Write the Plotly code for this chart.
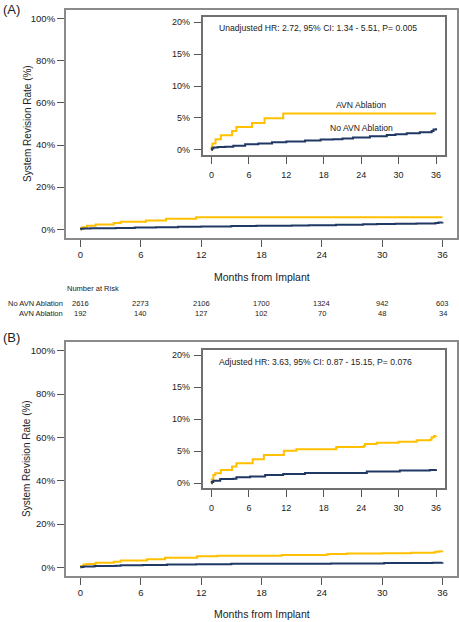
import plotly.graph_objects as go

W, H = 459, 622

# ---------------- data ----------------
months_ticks = [0, 6, 12, 18, 24, 30, 36]
main_y_ticks = [0, 20, 40, 60, 80, 100]
inset_y_ticks = [0, 5, 10, 15, 20]

# Panel A (unadjusted)
a_avn_t = [0, 0.05, 0.15, 0.65, 1.5, 3.3, 4.0, 6.5, 8.5, 11.5, 36]
a_avn_y = [0, 0.5, 1.0, 1.66, 2.3, 2.97, 3.6, 4.2, 4.95, 5.7, 5.7]
a_no_t = [0, 0.05, 0.3, 1.0, 2.2, 3.5, 5.4, 7.5, 9.7, 12.0, 15.0, 17.5, 19.5, 21.0,
          22.7, 25.4, 28.1, 29.5, 31.3, 33.4, 35.3, 35.6, 36]
a_no_y = [0, 0.25, 0.38, 0.45, 0.52, 0.65, 0.89, 1.02, 1.2, 1.32, 1.5, 1.62, 1.68, 1.78,
          1.95, 2.15, 2.35, 2.45, 2.6, 2.78, 2.95, 3.2, 3.38]

# Panel B (adjusted)
b_avn_t = [0, 0.05, 0.3, 0.6, 1.5, 3.3, 4.0, 6.6, 8.4, 11.6, 13.6, 20.0, 24.4, 24.6,
           26.5, 30.0, 32.9, 35.1, 35.3, 35.7, 36]
b_avn_y = [0, 0.6, 1.3, 1.56, 2.08, 2.6, 3.12, 3.74, 4.41, 5.09, 5.3, 5.65, 5.82, 6.13,
           6.34, 6.5, 6.7, 6.85, 7.17, 7.37, 7.4]
b_no_t = [0, 0.05, 0.3, 1.4, 3.5, 4.0, 6.2, 8.6, 11.5, 15.0, 19.5, 24.9, 30.2, 35.0, 36]
b_no_y = [0, 0.2, 0.4, 0.65, 0.7, 0.94, 1.04, 1.3, 1.45, 1.6, 1.62, 1.82, 1.98, 2.08, 2.18]

risk_labels = ["No AVN Ablation", "AVN Ablation"]
risk_no_avn = [2616, 2273, 2106, 1700, 1324, 942, 603]
risk_avn = [192, 140, 127, 102, 70, 48, 34]

hr_text_a = "Unadjusted HR: 2.72, 95% CI: 1.34 - 5.51, P= 0.005"
hr_text_b = "Adjusted HR: 3.63, 95% CI: 0.87 - 15.15, P= 0.076"

YELLOW = "#FFC000"
NAVY = "#1F3864"
FONT = "Liberation Sans, Arial, sans-serif"
TXT = "#222222"


def xd(px0, px1):
    return [px0 / W, px1 / W]


def yd(py_top, py_bot):
    return [1 - py_bot / H, 1 - py_top / H]


def pct(vals):
    return [f"{v}%" for v in vals]


fig = go.Figure()


def add_curves(t_avn, y_avn, t_no, y_no, xa, ya, width):
    fig.add_trace(go.Scatter(x=t_avn, y=y_avn, mode="lines", line=dict(color=YELLOW, width=width, shape="hv"),
                             xaxis=xa, yaxis=ya, hoverinfo="skip"))
    fig.add_trace(go.Scatter(x=t_no, y=y_no, mode="lines", line=dict(color=NAVY, width=width, shape="hv"),
                             xaxis=xa, yaxis=ya, hoverinfo="skip"))


add_curves(a_avn_t, a_avn_y, a_no_t, a_no_y, "x", "y", 2)
add_curves(a_avn_t, a_avn_y, a_no_t, a_no_y, "x2", "y2", 2)
add_curves(b_avn_t, b_avn_y, b_no_t, b_no_y, "x3", "y3", 2)
add_curves(b_avn_t, b_avn_y, b_no_t, b_no_y, "x4", "y4", 2)

xrng = [-1.44, 37.44]
main_ax = dict(showline=True, mirror=True, linecolor="#8a8a8a", linewidth=2, ticks="outside",
               ticklen=7, tickcolor="#555", tickwidth=1, showgrid=False, zeroline=False,
               tickfont=dict(family=FONT, size=9.5, color=TXT))
inset_ax = dict(showline=True, mirror=True, linecolor="#707070", linewidth=1.5, ticks="outside",
                ticklen=7, tickcolor="#555", tickwidth=1, showgrid=False, zeroline=False,
                tickfont=dict(family=FONT, size=9, color=TXT))

fig.update_layout(
    width=W, height=H, margin=dict(l=0, r=0, t=0, b=0),
    paper_bgcolor="white", plot_bgcolor="white", showlegend=False,
    xaxis=dict(domain=xd(66, 457), range=xrng, tickvals=months_ticks, anchor="y", ticklabelstandoff=0, **main_ax),
    yaxis=dict(domain=yd(10.3, 237.7), range=[-4, 104], tickvals=main_y_ticks, ticktext=pct(main_y_ticks),
               anchor="x", ticklabelstandoff=0, **main_ax),
    xaxis2=dict(domain=xd(202.5, 445), range=xrng, tickvals=months_ticks, anchor="y2", ticklabelstandoff=3, **inset_ax),
    yaxis2=dict(domain=yd(16.9, 155.1), range=[-0.8, 20.8], tickvals=inset_y_ticks, ticktext=pct(inset_y_ticks),
                anchor="x2", ticklabelstandoff=2, **inset_ax),
    xaxis3=dict(domain=xd(66, 457), range=xrng, tickvals=months_ticks, anchor="y3", ticklabelstandoff=0, **main_ax),
    yaxis3=dict(domain=yd(342, 576), range=[-4, 104], tickvals=main_y_ticks, ticktext=pct(main_y_ticks),
                anchor="x3", ticklabelstandoff=0, **main_ax),
    xaxis4=dict(domain=xd(202.5, 445), range=xrng, tickvals=months_ticks, anchor="y4", ticklabelstandoff=3, **inset_ax),
    yaxis4=dict(domain=yd(350, 488.4), range=[-0.8, 20.8], tickvals=inset_y_ticks, ticktext=pct(inset_y_ticks),
                anchor="x4", ticklabelstandoff=2, **inset_ax),
)

ann = []


def txt(x, y, s, size, xanchor="center", xref="paper", yref="paper", angle=0, color=TXT):
    ann.append(dict(x=x, y=y, xref=xref, yref=yref, text=s, showarrow=False, xanchor=xanchor,
                    yanchor="middle", textangle=angle, font=dict(family=FONT, size=size, color=color)))


def P(px, py):
    return px / W, 1 - py / H


# panel letters
x, y = P(1, 10); txt(x, y, "(A)", 13, xanchor="left")
x, y = P(1, 337); txt(x, y, "(B)", 13, xanchor="left")
# axis titles
for cy in (124, 459):
    x, y = P(27, cy); txt(x, y, "System Revision Rate (%)", 10, angle=-90)
for cy in (277, 614):
    x, y = P(261.5, cy); txt(x, y, "Months from Implant", 10.5)
# HR text
x, y = P(217, 28); txt(x, y, hr_text_a, 8.6, xanchor="left")
x, y = P(217, 361.5); txt(x, y, hr_text_b, 8.6, xanchor="left")
# inset curve labels (panel A)
x, y = P(361, 105); txt(x, y, "AVN Ablation", 8.6)
x, y = P(361, 128); txt(x, y, "No AVN Ablation", 8.6)
# number at risk table
x, y = P(93, 288); txt(x, y, "Number at Risk", 7.5)
for lbl, row, py in ((risk_labels[0], risk_no_avn, 303), (risk_labels[1], risk_avn, 313)):
    x, y = P(65, py); txt(x, y, lbl, 7.5, xanchor="right")
    for m, v in zip(months_ticks, row):
        ann.append(dict(x=m, y=1 - py / H, xref="x", yref="paper", text=str(v), showarrow=False,
                        xanchor="center", yanchor="middle", font=dict(family=FONT, size=7.5, color=TXT)))

fig.update_layout(annotations=ann)
fig.write_html("out.html", config={"displayModeBar": False},
               post_script="document.body.style.margin='0';document.body.style.overflow='hidden';")
